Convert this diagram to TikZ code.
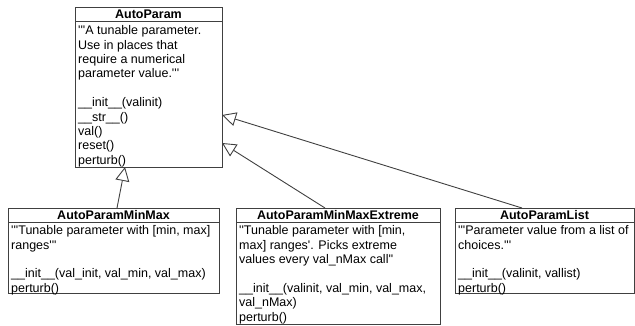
\documentclass[tikz,border=0pt]{standalone}
\usepackage{fontspec}
\setmainfont{Liberation Sans}[Ligatures=TeXOff]
\usetikzlibrary{arrows.meta,calc}
\definecolor{linec}{gray}{0.25}
\newcommand{\fstrut}{\rule{0pt}{11pt}}
\begin{document}
\begin{tikzpicture}[x=1pt,y=1pt,
  cls/.style={draw=linec, line width=0.9pt, fill=white, inner sep=0pt, outer sep=0pt, anchor=north west},
  divider/.style={draw=linec, line width=0.9pt},
  hdr/.style={font=\fontsize{12.5}{14.4}\selectfont\bfseries, inner sep=0pt},
  txt/.style={font=\fontsize{12.5}{14.4}\selectfont, align=left, inner sep=0pt, anchor=north west},
  inherit/.style={draw=linec, line width=0.9pt, -{Triangle[open, length=14pt, width=14pt, fill=white]}}]

\useasboundingbox (0,0) rectangle (635,-325);

% base class
\node[cls, minimum width=147pt, minimum height=160pt] (ap) at (75,-7) {};
\draw[divider] ($(ap.north west)+(0,-14)$) -- ($(ap.north east)+(0,-14)$);
\node[hdr] (apH) at ($(ap.north)+(0,-7)$) {AutoParam};
\node[txt] (apT) at ($(ap.north west)+(3,-16.5)$) {\fstrut'''A tunable parameter.\\Use in places that\\require a numerical\\parameter value.'''\\ \\ \_\_init\_\_(valinit)\\ \_\_str\_\_()\\val()\\reset()\\perturb()};

% subclass: min/max
\node[cls, minimum width=211pt, minimum height=85pt] (mm) at (8,-208) {};
\draw[divider] ($(mm.north west)+(0,-14)$) -- ($(mm.north east)+(0,-14)$);
\node[hdr] (mmH) at ($(mm.north)+(0,-7)$) {AutoParamMinMax};
\node[txt] (mmT) at ($(mm.north west)+(3,-15.5)$) {\fstrut'''Tunable parameter with [min, max]\\ranges'''\\ \\ \_\_init\_\_(val\_init, val\_min, val\_max)\\perturb()};

% subclass: min/max with extremes
\node[cls, minimum width=204pt, minimum height=116pt] (ex) at (236,-208) {};
\draw[divider] ($(ex.north west)+(0,-14)$) -- ($(ex.north east)+(0,-14)$);
\node[hdr] (exH) at ($(ex.north)+(0,-7)$) {AutoParamMinMaxExtreme};
\node[txt] (exT) at ($(ex.north west)+(3,-15.5)$) {\fstrut''Tunable parameter with [min,\\max] ranges'. Picks extreme\\values every val\_nMax call''\\ \\ \_\_init\_\_(valinit, val\_min, val\_max,\\val\_nMax)\\perturb()};

% subclass: list
\node[cls, minimum width=179pt, minimum height=85pt] (ls) at (455,-208) {};
\draw[divider] ($(ls.north west)+(0,-14)$) -- ($(ls.north east)+(0,-14)$);
\node[hdr] (lsH) at ($(ls.north)+(0,-7)$) {AutoParamList};
\node[txt] (lsT) at ($(ls.north west)+(3,-15.5)$) {\fstrut'''Parameter value from a list of\\choices.'''\\ \\ \_\_init\_\_(valinit, vallist)\\perturb()};

% generalisation arrows
\draw[inherit] ($(mm.north west)+(109,0)$) -- ($(ap.south west)+(50,0)$);
\draw[inherit] ($(ex.north west)+(89,0)$) -- ($(ap.north east)+(0,-136)$);
\draw[inherit] ($(ls.north west)+(67,0)$) -- ($(ap.north east)+(0,-108)$);
\end{tikzpicture}
\end{document}
